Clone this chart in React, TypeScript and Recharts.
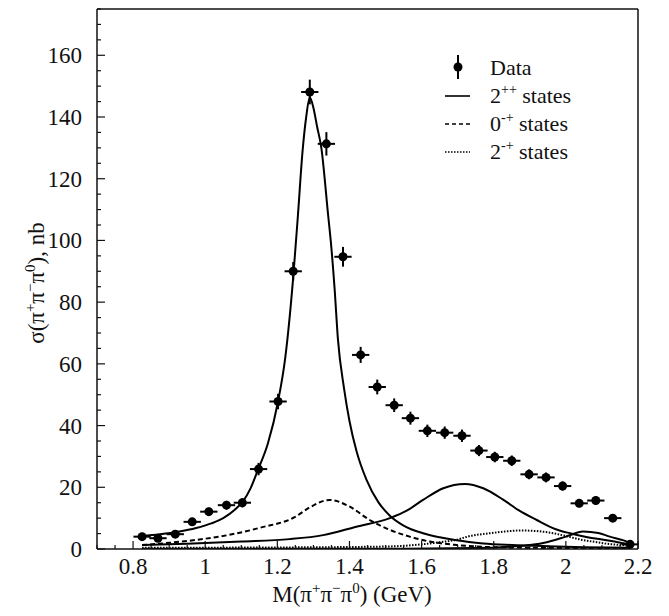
import React from "react";
import {
  ComposedChart,
  Line,
  Scatter,
  ErrorBar,
  XAxis,
  YAxis,
  ReferenceLine,
} from "recharts";

// measured cross section (bin centres, nb)
const DATA_X = [0.825, 0.869, 0.917, 0.964, 1.01, 1.059, 1.103, 1.148, 1.202, 1.244, 1.29, 1.336, 1.382, 1.431, 1.477, 1.524, 1.569, 1.616, 1.664, 1.712, 1.759, 1.803, 1.85, 1.898, 1.945, 1.991, 2.037, 2.083, 2.13, 2.178];
const DATA_Y = [4.0, 3.5, 4.8, 8.8, 12.1, 14.2, 15.0, 25.9, 47.8, 90.0, 148.1, 131.3, 94.7, 62.9, 52.5, 46.6, 42.4, 38.3, 37.7, 36.7, 31.9, 29.8, 28.6, 24.2, 23.2, 20.4, 14.8, 15.7, 10.0, 1.5];
const DATA_EY = [1.0, 1.0, 1.0, 1.2, 1.3, 1.4, 1.5, 2.0, 2.5, 3.0, 4.0, 3.8, 3.2, 2.6, 2.4, 2.2, 2.1, 2.0, 2.0, 2.0, 1.8, 1.7, 1.7, 1.6, 1.6, 1.5, 1.3, 1.3, 1.1, 0.5];
const BIN_HALF = 0.024;

// 2++ states: main peak
const T2PP_A_X = [0.823, 0.875, 0.925, 0.975, 1.017, 1.05, 1.082, 1.105, 1.125, 1.146, 1.174, 1.202, 1.222, 1.244, 1.257, 1.27, 1.28, 1.29, 1.3, 1.31, 1.322, 1.341, 1.348, 1.359, 1.368, 1.385, 1.4, 1.42, 1.447, 1.48, 1.512, 1.55, 1.604, 1.65, 1.697, 1.771, 1.85, 1.95, 2.05, 2.178];
const T2PP_A_Y = [4.2, 4.8, 5.6, 6.8, 8.3, 10.0, 12.7, 15.5, 19.5, 25.6, 34.3, 47.8, 62, 88, 108, 129, 140, 146.3, 143, 137, 130, 108, 100, 84, 68, 52, 41.5, 31.5, 22.5, 15.2, 10.8, 7.6, 5.1, 3.8, 2.8, 1.8, 1.3, 0.9, 0.6, 0.4];
// 2++ states: second peak
const T2PP_B_X = [0.825, 0.95, 1.1, 1.234, 1.327, 1.419, 1.512, 1.56, 1.604, 1.66, 1.72, 1.771, 1.826, 1.87, 1.919, 1.97, 2.011, 2.06, 2.104, 2.178];
const T2PP_B_Y = [1.3, 1.7, 2.4, 3.2, 4.5, 7.2, 10.0, 12.5, 15.9, 19.7, 21.1, 19.7, 16.0, 12.5, 9.4, 6.5, 5.1, 3.8, 3.0, 1.5];
// 2++ states: third peak
const T2PP_C_X = [0.825, 1.5, 1.75, 1.85, 1.9, 1.95, 2.0, 2.048, 2.09, 2.122, 2.16, 2.178];
const T2PP_C_Y = [0.1, 0.1, 0.3, 0.8, 1.3, 2.3, 4.0, 5.7, 5.2, 4.0, 2.8, 2.0];
// 0-+ states
const T0MP_X = [0.825, 0.9, 0.971, 1.063, 1.156, 1.248, 1.29, 1.345, 1.401, 1.456, 1.512, 1.567, 1.623, 1.697, 1.771, 1.9, 2.05, 2.178];
const T0MP_Y = [1.3, 2.0, 2.9, 4.5, 7.0, 10.3, 13.5, 15.9, 13.7, 9.4, 6.2, 4.0, 2.4, 1.3, 0.7, 0.4, 0.3, 0.3];
// 2-+ states
const T2MP_X = [0.825, 1.2, 1.5, 1.6, 1.65, 1.697, 1.734, 1.789, 1.826, 1.875, 1.92, 1.965, 2.0, 2.039, 2.08, 2.122, 2.178];
const T2MP_Y = [0.4, 0.5, 0.8, 1.5, 2.2, 3.0, 4.2, 5.1, 5.6, 6.0, 5.8, 5.1, 4.2, 3.1, 2.3, 1.6, 1.2];

const X_TICKS = [0.7, 0.75, 0.8, 0.85, 0.9, 0.95, 1.0, 1.05, 1.1, 1.15, 1.2, 1.25, 1.3, 1.35, 1.4, 1.45, 1.5, 1.55, 1.6, 1.65, 1.7, 1.75, 1.8, 1.85, 1.9, 1.95, 2.0, 2.05, 2.1, 2.15, 2.2];
const Y_TICKS = [0, 5, 10, 15, 20, 25, 30, 35, 40, 45, 50, 55, 60, 65, 70, 75, 80, 85, 90, 95, 100, 105, 110, 115, 120, 125, 130, 135, 140, 145, 150, 155, 160, 165, 170, 175];

const W = 669;
const H = 616;
const LEFT = 97;
const RIGHT = 638;
const TOP = 9;
const BOTTOM = 549;
const FONT = "Liberation Serif, serif";
const txt = { fontFamily: FONT, fill: "#111" };

const dataPoints = DATA_X.map((x, i) => ({ x, y: DATA_Y[i], ey: DATA_EY[i], ex: BIN_HALF }));
const toSeries = (xs: number[], ys: number[]) => xs.map((x, i) => ({ x, y: ys[i] }));

const YTick = (props: any) => {
  const v = props.payload.value;
  const y = props.payload.coordinate;
  const major = v % 20 === 0;
  return (
    <g>
      <line x1={LEFT} x2={LEFT + (major ? 8 : 4)} y1={y} y2={y} stroke="#111" strokeWidth={1.2} />
      {major && (
        <text x={82} y={y + 8} textAnchor="end" fontSize={23} fontFamily={FONT} style={txt}>
          {v}
        </text>
      )}
    </g>
  );
};

const XTick = (props: any) => {
  const v = props.payload.value;
  const x = props.payload.coordinate;
  const major = Math.abs(v * 5 - Math.round(v * 5)) < 1e-6;
  return (
    <g>
      <line x1={x} x2={x} y1={BOTTOM} y2={BOTTOM - (major ? 8 : 4)} stroke="#111" strokeWidth={1.2} />
      {major && (
        <text x={x} y={574} textAnchor="middle" fontSize={23} fontFamily={FONT} style={txt}>
          {String(Number(v.toFixed(2)))}
        </text>
      )}
    </g>
  );
};

const XTitle = () => (
  <text x={352} y={602} textAnchor="middle" fontSize={23} fontFamily={FONT} style={txt}>
    M(π<tspan dy={-9} fontSize={15}>+</tspan>
    <tspan dy={9}>π</tspan>
    <tspan dy={-9} fontSize={15}>−</tspan>
    <tspan dy={9}>π</tspan>
    <tspan dy={-9} fontSize={15}>0</tspan>
    <tspan dy={9}>) (GeV)</tspan>
  </text>
);

const YTitle = () => (
  <text transform="translate(44, 283) rotate(-90)" x={0} y={0} textAnchor="middle" fontSize={23} fontFamily={FONT} style={txt}>
    σ(π<tspan dy={-9} fontSize={15}>+</tspan>
    <tspan dy={9}>π</tspan>
    <tspan dy={-9} fontSize={15}>−</tspan>
    <tspan dy={9}>π</tspan>
    <tspan dy={-9} fontSize={15}>0</tspan>
    <tspan dy={9}>), nb</tspan>
  </text>
);

const LEGEND_ROWS = [
  { base: "2", sup: "++", dash: undefined as string | undefined },
  { base: "0", sup: "-+", dash: "4 3" },
  { base: "2", sup: "-+", dash: "1.5 1.5" },
];

const LegendBox = () => (
  <svg width={200} height={120} style={{ position: "absolute", left: 440, top: 50, overflow: "visible" }}>
    <line x1={18} x2={18} y1={5} y2={29} stroke="#000" strokeWidth={2} />
    <circle cx={18} cy={17} r={4.5} fill="#000" />
    <text x={50} y={25} fontSize={22} fontFamily={FONT} style={txt}>Data</text>
    {LEGEND_ROWS.map((r, i) => {
      const base = 53 + i * 28;
      return (
        <g key={i}>
          <line x1={5} x2={30} y1={base - 7} y2={base - 7} stroke="#000" strokeWidth={1.6} strokeDasharray={r.dash} />
          <text x={50} y={base} fontSize={22} fontFamily={FONT} style={txt}>
            {r.base}
            <tspan dy={-9} fontSize={14}>{r.sup}</tspan>
            <tspan dy={9}> states</tspan>
          </text>
        </g>
      );
    })}
  </svg>
);

const DataDot = (props: any) => <circle cx={props.cx} cy={props.cy} r={4.5} fill="#000" />;

export default function App() {
  return (
    <div style={{ position: "absolute", left: 0, top: 0, width: W, height: H, background: "#fff", fontFamily: FONT }}>
      <ComposedChart width={W} height={H} margin={{ top: TOP, right: W - RIGHT, left: 0, bottom: 0 }}>
        <XAxis
          type="number"
          dataKey="x"
          domain={[0.7, 2.2]}
          ticks={X_TICKS}
          interval={0}
          allowDataOverflow
          height={H - BOTTOM}
          axisLine={{ stroke: "#111", strokeWidth: 1.5 }}
          tickLine={false}
          tick={<XTick />}
          label={<XTitle />}
        />
        <YAxis
          type="number"
          domain={[0, 175]}
          ticks={Y_TICKS}
          interval={0}
          allowDataOverflow
          width={LEFT}
          axisLine={{ stroke: "#111", strokeWidth: 1.5 }}
          tickLine={false}
          tick={<YTick />}
          label={<YTitle />}
        />
        <ReferenceLine y={175} stroke="#111" strokeWidth={1.5} />
        <ReferenceLine x={2.2} stroke="#111" strokeWidth={1.5} />
        <Line data={toSeries(T2PP_A_X, T2PP_A_Y)} dataKey="y" type="monotone" stroke="#000" strokeWidth={2} dot={false} isAnimationActive={false} />
        <Line data={toSeries(T2PP_B_X, T2PP_B_Y)} dataKey="y" type="monotone" stroke="#000" strokeWidth={2} dot={false} isAnimationActive={false} />
        <Line data={toSeries(T2PP_C_X, T2PP_C_Y)} dataKey="y" type="monotone" stroke="#000" strokeWidth={2} dot={false} isAnimationActive={false} />
        <Line data={toSeries(T0MP_X, T0MP_Y)} dataKey="y" type="monotone" stroke="#000" strokeWidth={2} strokeDasharray="5 3" dot={false} isAnimationActive={false} />
        <Line data={toSeries(T2MP_X, T2MP_Y)} dataKey="y" type="monotone" stroke="#000" strokeWidth={2} strokeDasharray="1.5 1.5" dot={false} isAnimationActive={false} />
        <Scatter data={dataPoints} dataKey="y" shape={<DataDot />} isAnimationActive={false}>
          <ErrorBar dataKey="ey" direction="y" width={0} stroke="#000" strokeWidth={2} isAnimationActive={false} />
          <ErrorBar dataKey="ex" direction="x" width={0} stroke="#000" strokeWidth={2} isAnimationActive={false} />
        </Scatter>
      </ComposedChart>
      <LegendBox />
    </div>
  );
}
